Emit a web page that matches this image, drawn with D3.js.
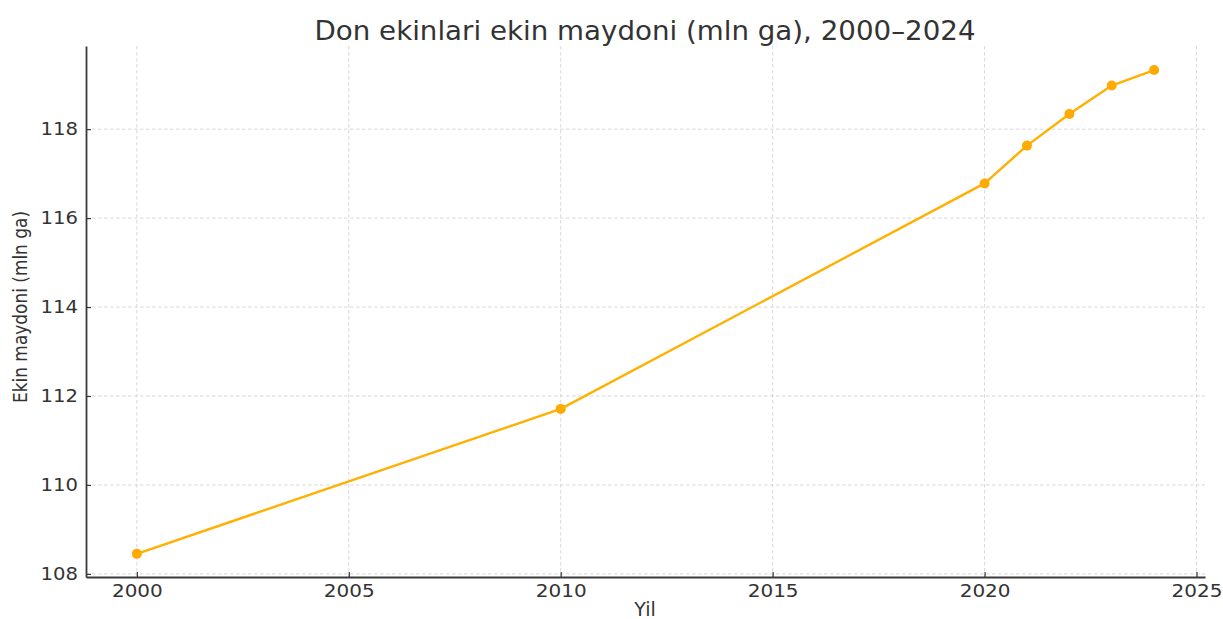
<!DOCTYPE html>
<html><head><meta charset="utf-8">
<script src="https://cdn.jsdelivr.net/npm/d3@7"></script>
<style>body{margin:0;background:#fff}svg{display:block}</style>
</head><body>
<svg id="c" width="1223" height="619"></svg>
<script>
const years = [2000, 2010, 2020, 2021, 2022, 2023, 2024];
const areas = [108.45, 111.71, 116.78, 117.63, 118.34, 118.98, 119.33];
const xTicks = [2000, 2005, 2010, 2015, 2020, 2025];
const yTicks = [108, 110, 112, 114, 116, 118];
const title = "Don ekinlari ekin maydoni (mln ga), 2000–2024";
const xLabel = "Yil";
const yLabel = "Ekin maydoni (mln ga)";

const svg = d3.select("#c");
const L = 86, R = 1205, T = 46, B = 577;
const x = d3.scaleLinear().domain([1998.8, 2025.2]).range([L, R]);
const y = d3.scaleLinear().domain([107.93, 119.87]).range([B, T]);
const font = "DejaVu Sans, sans-serif";
const ink = "#333";

function stretch(sel, k) {
  sel.each(function () {
    const len = this.getComputedTextLength();
    d3.select(this).attr("textLength", len * k).attr("lengthAdjust", "spacingAndGlyphs");
  });
}

// grid
const g = svg.append("g");
g.selectAll(".vg").data(xTicks).join("line")
  .attr("x1", d => x(d)).attr("x2", d => x(d)).attr("y1", T).attr("y2", B)
  .attr("stroke", "#d4d4d4").attr("stroke-width", 0.9).attr("stroke-dasharray", "3.5,2.5");
g.selectAll(".hg").data(yTicks).join("line")
  .attr("x1", L).attr("x2", R).attr("y1", d => y(d)).attr("y2", d => y(d))
  .attr("stroke", "#d4d4d4").attr("stroke-width", 0.9).attr("stroke-dasharray", "3.5,2.5");

// axes
const xAxis = d3.axisBottom(x).tickValues(xTicks).tickFormat(d3.format("d")).tickSizeInner(-5).tickSizeOuter(0).tickPadding(7);
const yAxis = d3.axisLeft(y).tickValues(yTicks).tickFormat(d3.format("d")).tickSizeInner(-5).tickSizeOuter(0).tickPadding(8);
const xa = svg.append("g").attr("transform", `translate(0,${B})`).call(xAxis);
const ya = svg.append("g").attr("transform", `translate(${L},0)`).call(yAxis);
[xa, ya].forEach(a => {
  a.select(".domain").attr("stroke", "#3a3a3a").attr("stroke-width", 1.8);
  a.selectAll(".tick line").attr("stroke", "#3a3a3a").attr("stroke-width", 1.2);
  a.selectAll(".tick text").attr("font-family", font).attr("font-size", 18).attr("fill", ink);
});
xa.selectAll(".tick text").attr("dy", "0.71em");
stretch(xa.selectAll(".tick text"), 1.11);
stretch(ya.selectAll(".tick text"), 1.09);

// line
const line = d3.line().x((d, i) => x(years[i])).y(d => y(d));
svg.append("path").datum(areas).attr("d", line)
  .attr("fill", "none").attr("stroke", "#FFB000").attr("stroke-width", 2.4)
  .attr("stroke-linejoin", "round");
svg.selectAll(".pt").data(areas).join("circle")
  .attr("cx", (d, i) => x(years[i])).attr("cy", d => y(d)).attr("r", 5)
  .attr("fill", "#FFAA00");

// labels
svg.append("text").attr("x", 645).attr("y", 40).attr("text-anchor", "middle")
  .attr("font-family", font).attr("font-size", 27).attr("fill", ink)
  .attr("textLength", 661).attr("lengthAdjust", "spacingAndGlyphs").text(title);
svg.append("text").attr("x", 645).attr("y", 616).attr("text-anchor", "middle")
  .attr("font-family", font).attr("font-size", 19).attr("fill", ink).text(xLabel);
svg.append("text").attr("transform", "translate(27,307) rotate(-90)").attr("text-anchor", "middle")
  .attr("font-family", font).attr("font-size", 20).attr("fill", ink)
  .attr("textLength", 192).attr("lengthAdjust", "spacingAndGlyphs").text(yLabel);
</script>
</body></html>
